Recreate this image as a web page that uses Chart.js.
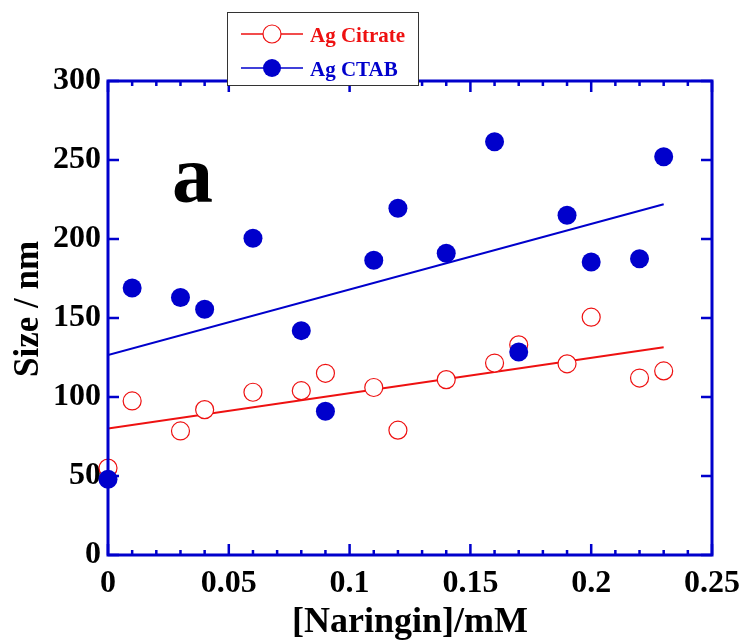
<!DOCTYPE html>
<html>
<head>
<meta charset="utf-8">
<script src="https://cdn.jsdelivr.net/npm/chart.js@4/dist/chart.umd.min.js"></script>
<style>
  html, body { margin: 0; padding: 0; background: #fff; }
  #wrap { width: 746px; height: 640px; }
</style>
</head>
<body>
<div id="wrap"><canvas id="myChart" width="746" height="640"></canvas></div>
<script>
// naringin concentration (mM)
var naringin = [0, 0.01, 0.03, 0.04, 0.06, 0.08, 0.09, 0.11, 0.12, 0.14, 0.16, 0.17, 0.19, 0.2, 0.22, 0.23];
// particle size (nm)
var sizeCitrate = [55, 97.5, 78.5, 92, 103, 104, 115, 106, 79, 111, 121.5, 133, 121, 150.5, 112, 116.5];
var sizeCtab = [48, 169, 163, 155.5, 200.5, 142, 91, 186.5, 219.5, 191, 261.5, 128.5, 215, 185.5, 187.5, 252];
// fitted lines
var fitX = [0, 0.23];
var fitCitrate = [80, 131.5];
var fitCtab = [126.5, 222];
var xTickLabels = ["0", "0.05", "0.1", "0.15", "0.2", "0.25"];
var legendNames = ["Ag Citrate", "Ag CTAB"];

var BLUE = "#0000cc";
var RED = "#ee1111";
var SERIF = "'Liberation Serif', 'DejaVu Serif', serif";

function pairs(xs, ys) {
    return xs.map(function (x, i) { return { x: x, y: ys[i] }; });
}

// frame, inward ticks, y title, legend box and panel letter
var framePlugin = {
    id: "frame",
    afterDatasetsDraw: function (chart) {
        var ctx = chart.ctx;
        var a = chart.chartArea;
        var xs = chart.scales.x, ys = chart.scales.y;
        ctx.save();
        ctx.strokeStyle = BLUE;
        ctx.lineWidth = 3;
        ctx.beginPath();
        ctx.rect(a.left, a.top, a.right - a.left, a.bottom - a.top);
        ctx.stroke();

        ctx.lineWidth = 2.5;
        ctx.beginPath();
        // x ticks: majors every 0.05, minors every 0.01
        for (var i = 0; i <= 25; i++) {
            var px = xs.getPixelForValue(i / 100);
            var len = (i % 5 == 0) ? 11 : 5;
            ctx.moveTo(px, a.bottom); ctx.lineTo(px, a.bottom - len);
            ctx.moveTo(px, a.top); ctx.lineTo(px, a.top + len);
        }
        // y ticks every 50
        for (var v = 0; v <= 300; v += 50) {
            var py = ys.getPixelForValue(v);
            ctx.moveTo(a.left, py); ctx.lineTo(a.left + 11, py);
            ctx.moveTo(a.right, py); ctx.lineTo(a.right - 11, py);
        }
        ctx.stroke();

        // y axis title
        ctx.save();
        ctx.translate(38, 309);
        ctx.rotate(-Math.PI / 2);
        ctx.fillStyle = "#000";
        ctx.font = "bold 35px " + SERIF;
        ctx.textAlign = "center";
        ctx.textBaseline = "alphabetic";
        ctx.fillText("Size / nm", 0, 0);
        ctx.restore();

        // panel letter
        ctx.fillStyle = "#000";
        ctx.font = "bold 82px " + SERIF;
        ctx.textAlign = "left";
        ctx.textBaseline = "alphabetic";
        ctx.fillText("a", 172, 202);

        // legend box
        ctx.fillStyle = "#fff";
        ctx.fillRect(227, 12, 192, 74);
        ctx.strokeStyle = "#333";
        ctx.lineWidth = 1;
        ctx.strokeRect(227.5, 12.5, 191, 73);

        var rows = [
            { y: 34, color: RED, filled: false, name: legendNames[0] },
            { y: 68, color: BLUE, filled: true, name: legendNames[1] }
        ];
        rows.forEach(function (r) {
            ctx.strokeStyle = r.color;
            ctx.lineWidth = 1.5;
            ctx.beginPath();
            ctx.moveTo(241, r.y); ctx.lineTo(303, r.y);
            ctx.stroke();
            ctx.beginPath();
            ctx.arc(272, r.y, 9, 0, Math.PI * 2);
            if (r.filled) {
                ctx.fillStyle = r.color; ctx.fill();
            } else {
                ctx.fillStyle = "#fff"; ctx.fill();
                ctx.lineWidth = 1.2; ctx.stroke();
            }
            ctx.fillStyle = r.color;
            ctx.font = "bold 21px " + SERIF;
            ctx.fillText(r.name, 310, r.y + 8);
        });
        ctx.restore();
    }
};

var ctx = document.getElementById("myChart").getContext("2d");
var myChart = new Chart(ctx, {
    type: "scatter",
    data: {
        datasets: [
            {
                label: legendNames[1],
                data: pairs(naringin, sizeCtab),
                backgroundColor: BLUE,
                borderColor: BLUE,
                pointRadius: 9.5,
                pointBorderWidth: 0,
                clip: false,
                order: 1
            },
            {
                label: legendNames[0],
                data: pairs(naringin, sizeCitrate),
                backgroundColor: "#fff",
                borderColor: RED,
                pointRadius: 9,
                pointBorderWidth: 1.2,
                clip: false,
                order: 2
            },
            {
                label: "fit citrate",
                data: pairs(fitX, fitCitrate),
                showLine: true,
                borderColor: RED,
                borderWidth: 2,
                pointRadius: 0,
                order: 3
            },
            {
                label: "fit ctab",
                data: pairs(fitX, fitCtab),
                showLine: true,
                borderColor: BLUE,
                borderWidth: 2,
                pointRadius: 0,
                order: 4
            }
        ]
    },
    options: {
        responsive: false,
        animation: false,
        layout: { padding: { top: 81, right: 34, left: 0, bottom: 0 } },
        plugins: {
            legend: { display: false },
            tooltip: { enabled: false }
        },
        scales: {
            x: {
                type: "linear",
                min: 0,
                max: 0.25,
                afterFit: function (s) {
                    s.height = 85;
                    s.paddingLeft = 0;
                    s.paddingRight = 0;
                },
                afterBuildTicks: function (s) {
                    s.ticks = xTickLabels.map(function (t, i) { return { value: i * 0.05 }; });
                },
                ticks: {
                    color: "#000",
                    padding: 10,
                    font: { family: SERIF, size: 32, weight: "bold" },
                    maxRotation: 0,
                    callback: function (v, i) { return xTickLabels[i]; }
                },
                grid: { display: false, drawTicks: false },
                border: { display: false },
                title: {
                    display: true,
                    text: "[Naringin]/mM",
                    color: "#000",
                    font: { family: SERIF, size: 36, weight: "bold" },
                    padding: { top: 0, bottom: -4 }
                }
            },
            y: {
                min: 0,
                max: 300,
                afterFit: function (s) {
                    s.width = 108;
                    s.paddingTop = 0;
                    s.paddingBottom = 0;
                },
                ticks: {
                    stepSize: 50,
                    color: "#000",
                    padding: 7,
                    font: { family: SERIF, size: 32, weight: "bold" }
                },
                grid: { display: false, drawTicks: false },
                border: { display: false }
            }
        }
    },
    plugins: [framePlugin]
});
</script>
</body>
</html>
